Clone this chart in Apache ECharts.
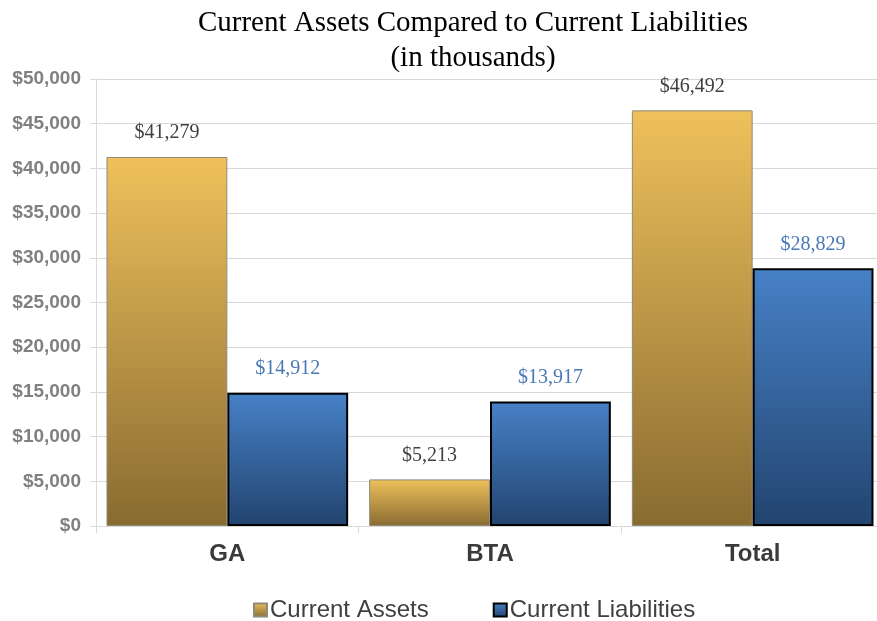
<!DOCTYPE html>
<html>
<head>
<meta charset="UTF-8">
<title>Current Assets Compared to Current Liabilities</title>
<style>
  html, body { margin: 0; padding: 0; background: #fff; }
  #chart { width: 877px; height: 621px; }
</style>
</head>
<body>
<div id="chart"></div>
<script src="https://cdn.jsdelivr.net/npm/echarts@6/dist/echarts.min.js"></script>
<script>
// data (in thousands)
var categories = ['GA', 'BTA', 'Total'];
var assets = [41279, 5213, 46492];
var liabilities = [14912, 13917, 28829];
var yTicks = { min: 0, max: 50000, interval: 5000 };

var chart = echarts.init(document.getElementById('chart'));

// gradient of each bar, top to bottom
var goldFill = new echarts.graphic.LinearGradient(0, 0, 0, 1, [
  { offset: 0, color: '#efc15c' },
  { offset: 1, color: '#896b31' }
]);
var blueFill = new echarts.graphic.LinearGradient(0, 0, 0, 1, [
  { offset: 0, color: '#4781c7' },
  { offset: 1, color: '#22446f' }
]);

function money(v) {
  return '$' + v.toLocaleString('en-US');
}

var option = {
  backgroundColor: '#fff',
  animation: false,
  title: {
    text: 'Current Assets Compared to Current Liabilities\n(in thousands)',
    left: 468,
    top: 1,
    textAlign: 'center',
    textStyle: {
      fontFamily: '"Liberation Serif", "Times New Roman", serif',
      fontSize: 29,
      fontWeight: 'normal',
      color: '#000',
      lineHeight: 35
    }
  },
  legend: {
    data: ['Current Assets', 'Current Liabilities'],
    left: 248,
    top: 593,
    itemWidth: 13,
    itemHeight: 13,
    itemGap: 64,
    icon: 'rect',
    textStyle: {
      fontFamily: 'Arial, "Liberation Sans", sans-serif',
      fontSize: 24,
      color: '#404040',
      padding: [0, 0, 0, -2]
    }
  },
  grid: {
    left: 96,
    top: 79,
    width: 788,
    height: 447,
    containLabel: false,
    outerBoundsMode: 'none'
  },
  xAxis: {
    type: 'category',
    data: categories,
    axisLine: { lineStyle: { color: '#d9d9d9', width: 1 } },
    axisTick: { show: true, length: 7, lineStyle: { color: '#d9d9d9' } },
    axisLabel: {
      margin: 16,
      fontFamily: 'Arial, "Liberation Sans", sans-serif',
      fontSize: 24,
      fontWeight: 'bold',
      color: '#3a3a3a'
    }
  },
  yAxis: {
    type: 'value',
    min: yTicks.min,
    max: yTicks.max,
    interval: yTicks.interval,
    axisLine: { show: true, lineStyle: { color: '#d9d9d9' } },
    axisTick: { show: true, inside: false, length: 6, lineStyle: { color: '#d9d9d9' } },
    splitLine: { lineStyle: { color: '#d9d9d9', width: 1 } },
    axisLabel: {
      margin: 15,
      fontFamily: 'Arial, "Liberation Sans", sans-serif',
      fontSize: 19,
      fontWeight: 'bold',
      color: '#808080',
      formatter: function (v) { return money(v); }
    }
  },
  series: [
    {
      name: 'Current Assets',
      type: 'bar',
      data: assets,
      barGap: '0%',
      barCategoryGap: '8%',
      itemStyle: {
        color: goldFill,
        borderColor: '#8c8a7a',
        borderWidth: 1
      },
      label: {
        show: true,
        position: 'top',
        distance: 14,
        fontFamily: '"Liberation Serif", "Times New Roman", serif',
        fontSize: 20,
        color: '#404040',
        formatter: function (p) { return money(p.value); }
      }
    },
    {
      name: 'Current Liabilities',
      type: 'bar',
      data: liabilities,
      barGap: '0%',
      barCategoryGap: '8%',
      itemStyle: {
        color: blueFill,
        borderColor: '#000',
        borderWidth: 2
      },
      label: {
        show: true,
        position: 'top',
        distance: 14,
        fontFamily: '"Liberation Serif", "Times New Roman", serif',
        fontSize: 20,
        color: '#4a78b6',
        formatter: function (p) { return money(p.value); }
      }
    }
  ]
};

chart.setOption(option);
</script>
</body>
</html>
